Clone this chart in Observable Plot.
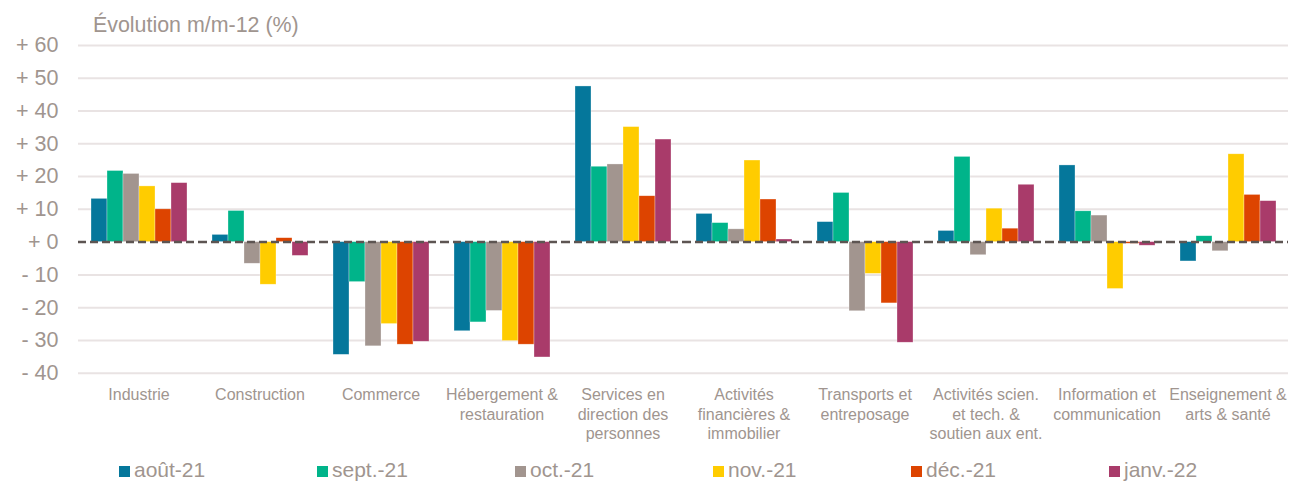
<!DOCTYPE html>
<html>
<head>
<meta charset="utf-8">
<script src="https://cdn.jsdelivr.net/npm/d3@7"></script>
<script src="https://cdn.jsdelivr.net/npm/@observablehq/plot@0.6"></script>
<style>
  html, body { margin: 0; padding: 0; background: #ffffff; }
  #wrap { position: relative; width: 1293px; height: 484px; overflow: hidden; font-family: "Liberation Sans", Arial, sans-serif; color: #a0958f; }
  #title { position: absolute; left: 93px; top: 15px; font-size: 21.4px; line-height: 21px; white-space: nowrap; }
  #chart { position: absolute; left: 0; top: 36px; }
  #legend { position: absolute; left: 119px; top: 459px; display: flex; font-size: 21px; line-height: 21px; white-space: nowrap; }
  .item { width: 198px; }
  .sw { display: inline-block; width: 11px; height: 11px; margin-right: 4px; vertical-align: baseline; }
</style>
</head>
<body>
<div id="wrap">
  <div id="title"></div>
  <div id="chart"></div>
  <div id="legend"></div>
</div>
<script>
const titleText = "Évolution m/m-12 (%)";
const categories = ["Industrie", "Construction", "Commerce", "Hébergement & restauration", "Services en direction des personnes", "Activités financières & immobilier", "Transports et entreposage", "Activités scien. et tech. & soutien aux ent.", "Information et communication", "Enseignement & arts & santé"];
const categoryLabels = ["Industrie", "Construction", "Commerce", "Hébergement &\nrestauration", "Services en\ndirection des\npersonnes", "Activités\nfinancières &\nimmobilier", "Transports et\nentreposage", "Activités scien.\net tech. &\nsoutien aux ent.", "Information et\ncommunication", "Enseignement &\narts & santé"];
const seriesNames = ["août-21", "sept.-21", "oct.-21", "nov.-21", "déc.-21", "janv.-22"];
const aout21  = [13.2,   2.2, -34.4, -27.2, 47.5,  8.6,   6.1,  3.4,  23.4, -5.9];
const sept21  = [21.7,   9.5, -12.2, -24.5, 23.0,  5.8,  15.0, 26.0,   9.4,  1.8];
const oct21   = [20.8,  -6.6, -31.8, -21.0, 23.7,  3.9, -21.1, -4.0,   8.1, -2.8];
const nov21   = [17.0, -13.0, -25.0, -30.2, 35.1, 24.9,  -9.7, 10.2, -14.3, 26.8];
const dec21   = [10.0,   1.2, -31.3, -31.3, 14.0, 13.0, -18.7,  4.1,  -0.5, 14.4];
const janv22  = [18.0,  -4.2, -30.4, -35.2, 31.3,  0.8, -30.7, 17.5,  -1.1, 12.5];
const seriesColors = ["#05779b", "#00b48a", "#a2958f", "#ffcc00", "#dd4400", "#a93b6a"];
const yTicks = [-40, -30, -20, -10, 0, 10, 20, 30, 40, 50, 60];

const seriesValues = [aout21, sept21, oct21, nov21, dec21, janv22];
const data = categories.flatMap((c, i) =>
  seriesValues.map((vals, j) => ({cat: c, series: seriesNames[j], value: vals[i]})));

const textColor = "#a0958f";

const chart = Plot.plot({
  width: 1293,
  height: 425,
  marginLeft: 78,
  marginRight: 5,
  marginTop: 9,
  marginBottom: 88.3,
  style: {fontFamily: '"Liberation Sans", Arial, sans-serif', fontSize: "21.5px", color: textColor, background: "transparent", overflow: "visible"},
  fx: {domain: categories, padding: 0, axis: null, label: null},
  x: {domain: seriesNames, paddingInner: 0, paddingOuter: 0.75, axis: null},
  y: {domain: [-40, 60], ticks: yTicks, tickSize: 0, tickPadding: 20, label: null,
      tickFormat: d => (d >= 0 ? "+ " : "- ") + Math.abs(d)},
  color: {domain: seriesNames, range: seriesColors},
  marks: [
    Plot.ruleY(yTicks.filter(d => d !== 0), {stroke: "#e9e3e3", strokeWidth: 2}),
    Plot.barY(data, {fx: "cat", x: "series", y: "value", fill: "series", stroke: "#ffffff", strokeWidth: 0.6, strokeOpacity: 0.5}),
    Plot.ruleY([0], {stroke: "#5d5552", strokeWidth: 2.5, strokeDasharray: "8,4"}),
    Plot.text(categories, {fx: d => d, text: (d, i) => categoryLabels[i], frameAnchor: "bottom", lineAnchor: "top", dy: 13.3, fontSize: 16, lineHeight: 1.22, fill: textColor})
  ]
});
document.getElementById("chart").appendChild(chart);
document.getElementById("title").textContent = titleText;

const legend = document.getElementById("legend");
seriesNames.forEach((name, i) => {
  const item = document.createElement("div");
  item.className = "item";
  const sw = document.createElement("span");
  sw.className = "sw";
  sw.style.background = seriesColors[i];
  item.appendChild(sw);
  item.appendChild(document.createTextNode(name));
  legend.appendChild(item);
});
</script>
</body>
</html>
